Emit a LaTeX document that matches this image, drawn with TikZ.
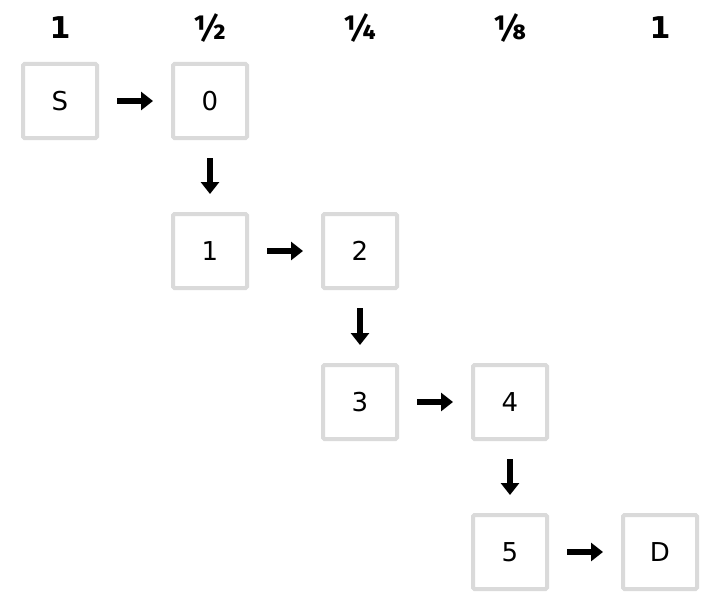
\documentclass[tikz,border=0pt]{standalone}
\usepackage{fontspec}
\setmainfont{DejaVu Sans}
\newfontfamily\fracfont{Fira Sans}
\usetikzlibrary{arrows.meta}
\definecolor{boxgray}{HTML}{DADADA}
\tikzset{
  cell/.style={draw=boxgray, line width=4pt, rounded corners=1.5pt, minimum size=74pt, inner sep=0pt, font=\fontsize{26}{30}\selectfont},
  toplab/.style={font=\fontsize{30}{36}\selectfont\bfseries, inner sep=0pt},
  fraclab/.style={font=\fracfont\fontsize{34}{40}\selectfont\bfseries, inner sep=0pt},
  flow/.style={line width=6.5pt, -{Triangle[length=12pt,width=18pt]}, shorten <=18pt, shorten >=18pt}
}
\begin{document}
\begin{tikzpicture}[x=1pt,y=-1pt]
\useasboundingbox (0,0) rectangle (720,610);
\node[toplab] (t1) at (60,28) {1};
\node[fraclab] (t2) at (210,28) {½};
\node[fraclab] (t3) at (360,28) {¼};
\node[fraclab] (t4) at (510,28) {⅛};
\node[toplab] (t5) at (660,28) {1};
\node[cell] (s) at (60,101) {S};
\node[cell] (n0) at (210,101) {0};
\node[cell] (n1) at (210,251) {1};
\node[cell] (n2) at (360,251) {2};
\node[cell] (n3) at (360,402) {3};
\node[cell] (n4) at (510,402) {4};
\node[cell] (n5) at (510,552) {5};
\node[cell] (d) at (660,552) {D};
\draw[flow] (s) -- (n0);
\draw[flow] (n0) -- (n1);
\draw[flow] (n1) -- (n2);
\draw[flow] (n2) -- (n3);
\draw[flow] (n3) -- (n4);
\draw[flow] (n4) -- (n5);
\draw[flow] (n5) -- (d);
\end{tikzpicture}
\end{document}
